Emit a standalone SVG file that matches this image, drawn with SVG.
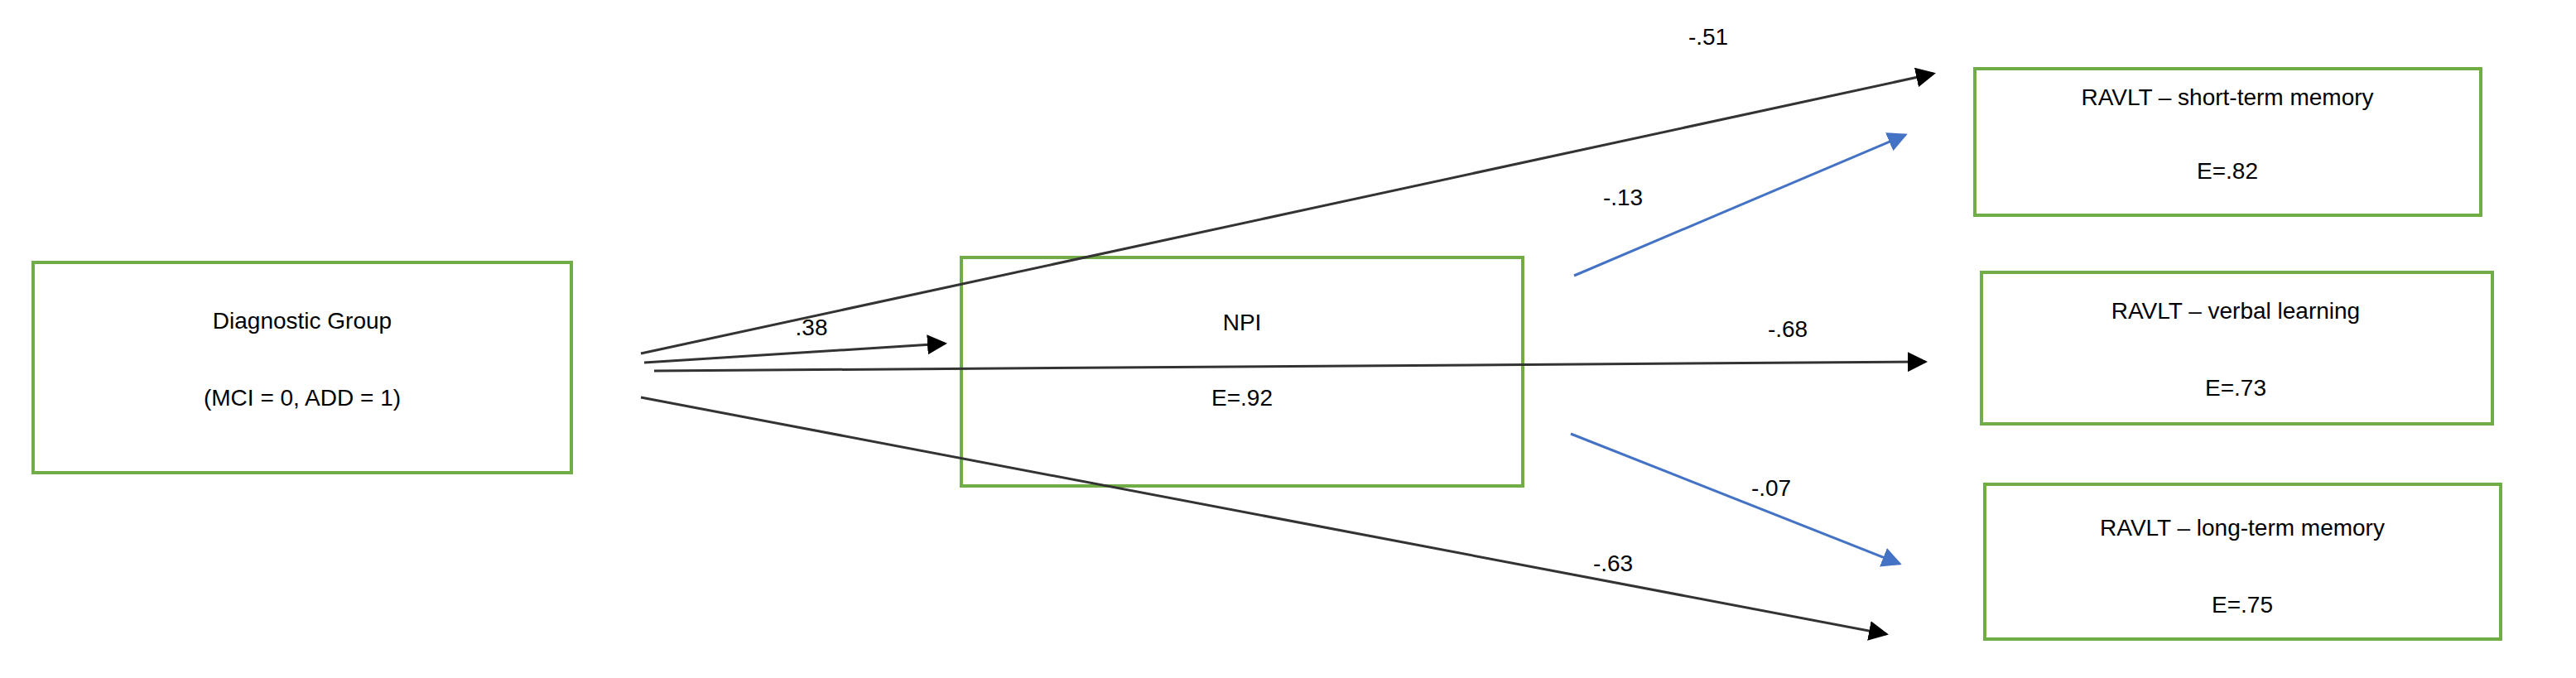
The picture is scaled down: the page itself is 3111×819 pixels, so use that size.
<svg xmlns="http://www.w3.org/2000/svg" width="3111" height="819" viewBox="0 0 3111 819">
<style>
.box{fill:#fff;stroke:#70AD47;stroke-width:4}
.t{font-family:"Liberation Sans",Arial,sans-serif;font-size:28px;fill:#000;text-anchor:middle}
.k{stroke:#333;stroke-width:3;fill:none;marker-end:url(#ak)}
.b{stroke:#4472C4;stroke-width:3;fill:none;marker-end:url(#ab)}
</style>
<defs>
<marker id="ak" markerWidth="8" markerHeight="8" refX="7" refY="4" orient="auto" markerUnits="strokeWidth"><path d="M0,0L8,4L0,8z" fill="#000"/></marker>
<marker id="ab" markerWidth="8" markerHeight="8" refX="7" refY="4" orient="auto" markerUnits="strokeWidth"><path d="M0,0L8,4L0,8z" fill="#4472C4"/></marker>
</defs>
<rect width="3111" height="819" fill="#fff"/>
<g id="diag"><rect class="box" x="40" y="317" width="650" height="254"/><text class="t" x="365" y="397">Diagnostic Group</text><text class="t" x="365" y="490">(MCI = 0, ADD = 1)</text></g>
<g id="npi"><rect class="box" x="1161" y="311" width="678" height="276" fill="none" style="fill:none"/><text class="t" x="1500" y="399">NPI</text><text class="t" x="1500" y="490">E=.92</text></g>
<g id="short"><rect class="box" x="2385" y="83" width="611" height="177"/><text class="t" x="2690" y="127">RAVLT – short-term memory</text><text class="t" x="2690" y="216">E=.82</text></g>
<g id="verbal"><rect class="box" x="2393" y="329" width="617" height="183"/><text class="t" x="2700" y="385">RAVLT – verbal learning</text><text class="t" x="2700" y="478">E=.73</text></g>
<g id="long"><rect class="box" x="2397" y="585" width="623" height="187"/><text class="t" x="2708" y="647">RAVLT – long-term memory</text><text class="t" x="2708" y="740">E=.75</text></g>
<g id="connectors">
<line class="k" x1="774" y1="427" x2="2335" y2="89"/>
<line class="k" x1="778" y1="438" x2="1141" y2="415"/>
<line class="k" x1="790" y1="448" x2="2325" y2="437"/>
<line class="k" x1="774" y1="480" x2="2278" y2="766"/>
<line class="b" x1="1901" y1="333" x2="2301" y2="163"/>
<line class="b" x1="1897" y1="524" x2="2294" y2="681"/>
<text class="t" x="2063" y="54">-.51</text>
<text class="t" x="980" y="405">.38</text>
<text class="t" x="1960" y="248">-.13</text>
<text class="t" x="2159" y="407">-.68</text>
<text class="t" x="2139" y="599">-.07</text>
<text class="t" x="1948" y="690">-.63</text>
</g>
</svg>
